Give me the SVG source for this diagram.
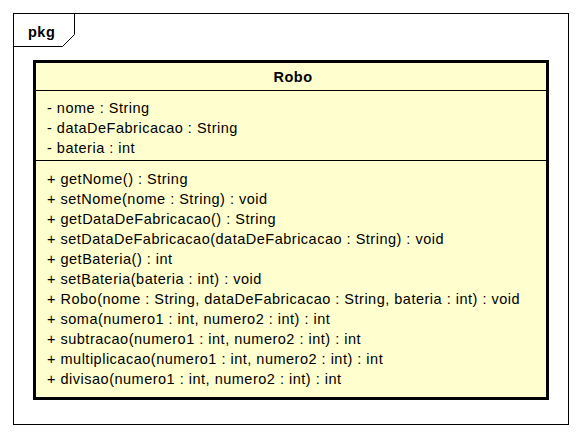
<svg xmlns="http://www.w3.org/2000/svg" width="581" height="438" viewBox="0 0 581 438">
  <style>
    .frame { fill: none; stroke: #000; stroke-width: 1; }
    .box { fill: #FEFECE; stroke: #000; stroke-width: 3; }
    .sep { stroke: #000; stroke-width: 1; }
    .t { font-family: "Liberation Sans", Arial, sans-serif; font-size: 14.5px; letter-spacing: 0.5px; fill: #000; }
    .b { font-weight: bold; }
  </style>
  <rect width="581" height="438" fill="#fff"/>
  <g id="pkg">
    <rect class="frame" x="13.5" y="13.5" width="555" height="411"/>
    <path class="frame" d="M13.5,46.5 H62.5 L74.5,34.5 V13.5"/>
    <text class="t b" x="28" y="37">pkg</text>
  </g>
  <g id="Robo">
    <rect class="box" x="34.5" y="61.5" width="513" height="337"/>
    <line class="sep" x1="36" y1="90.5" x2="546" y2="90.5"/>
    <line class="sep" x1="36" y1="160.5" x2="546" y2="160.5"/>
    <text class="t b" x="293" y="82" text-anchor="middle">Robo</text>
    <text class="t" x="47" y="113">- nome : String</text>
    <text class="t" x="47" y="133">- dataDeFabricacao : String</text>
    <text class="t" x="47" y="153">- bateria : int</text>
    <text class="t" x="47" y="184">+ getNome() : String</text>
    <text class="t" x="47" y="204">+ setNome(nome : String) : void</text>
    <text class="t" x="47" y="224">+ getDataDeFabricacao() : String</text>
    <text class="t" x="47" y="244">+ setDataDeFabricacao(dataDeFabricacao : String) : void</text>
    <text class="t" x="47" y="264">+ getBateria() : int</text>
    <text class="t" x="47" y="284">+ setBateria(bateria : int) : void</text>
    <text class="t" x="47" y="304">+ Robo(nome : String, dataDeFabricacao : String, bateria : int) : void</text>
    <text class="t" x="47" y="324">+ soma(numero1 : int, numero2 : int) : int</text>
    <text class="t" x="47" y="344">+ subtracao(numero1 : int, numero2 : int) : int</text>
    <text class="t" x="47" y="364">+ multiplicacao(numero1 : int, numero2 : int) : int</text>
    <text class="t" x="47" y="384">+ divisao(numero1 : int, numero2 : int) : int</text>
  </g>
  <g id="connectors"></g>
</svg>
